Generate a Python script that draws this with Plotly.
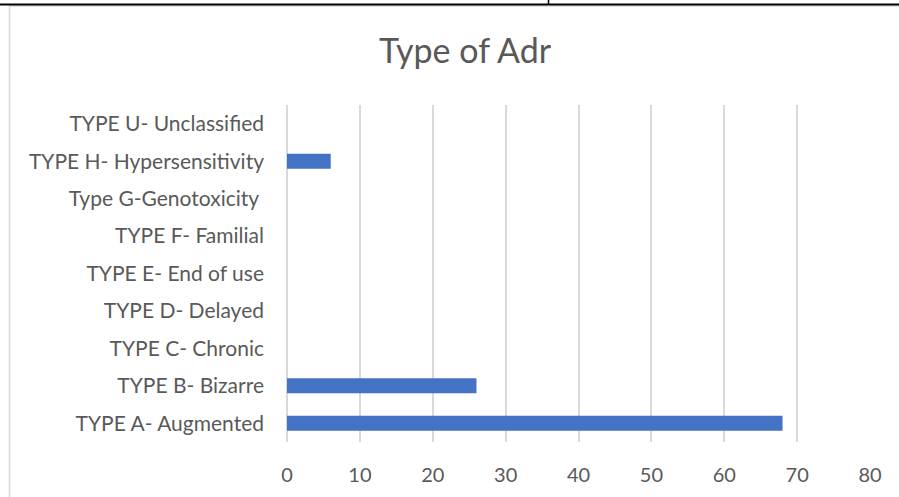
import plotly.graph_objects as go

# Categories listed bottom-to-top as they appear on the axis
categories = [
    "TYPE A- Augmented",
    "TYPE B- Bizarre",
    "TYPE C- Chronic",
    "TYPE D- Delayed",
    "TYPE E- End of use",
    "TYPE F- Familial",
    "Type G-Genotoxicity ",
    "TYPE H- Hypersensitivity",
    "TYPE U- Unclassified",
]
counts = [68, 26, 0, 0, 0, 0, 0, 6, 0]
x_ticks = [0, 10, 20, 30, 40, 50, 60, 70, 80]

W, H = 899, 497
L, R, T, B = 287, 29, 105, 55
pw = W - L - R
ph = H - T - B


def px_x(p):
    return (p - L) / pw


def px_y(p):
    return (H - B - p) / ph


fig = go.Figure(
    go.Bar(
        x=counts,
        y=categories,
        orientation="h",
        marker=dict(color="#4472C4", line=dict(width=0)),
        hoverinfo="x+y",
    )
)

grey = "#595959"
fig.update_layout(
    width=W,
    height=H,
    margin=dict(l=L, r=R, t=T, b=B),
    paper_bgcolor="white",
    plot_bgcolor="white",
    bargap=0.6,
    showlegend=False,
    font=dict(family="Lato, Open Sans, sans-serif", color=grey),
    title=dict(
        text="Type of Adr",
        font=dict(size=34, color=grey, family="Lato, sans-serif"),
        x=465 / W,
        xanchor="center",
        y=1 - 51 / H,
        yanchor="middle",
    ),
    xaxis=dict(
        range=[0, 80],
        tickvals=x_ticks,
        ticktext=[str(v) for v in x_ticks],
        showgrid=True,
        gridcolor="#D9D9D9",
        gridwidth=1.5,
        zeroline=True,
        zerolinecolor="#D9D9D9",
        zerolinewidth=1.5,
        showline=False,
        ticks="",
        ticklabelstandoff=19,
        tickfont=dict(size=20, color=grey),
        fixedrange=True,
    ),
    yaxis=dict(
        categoryorder="array",
        categoryarray=categories,
        showgrid=False,
        zeroline=False,
        showline=False,
        ticks="",
        ticklabelstandoff=22,
        tickfont=dict(size=21, color=grey),
        fixedrange=True,
    ),
    shapes=[
        # light grey chart frame
        dict(type="line", xref="paper", yref="paper",
             x0=px_x(9.5), x1=px_x(899), y0=px_y(6), y1=px_y(6),
             line=dict(color="#D9D9D9", width=1.5)),
        dict(type="line", xref="paper", yref="paper",
             x0=px_x(9.5), x1=px_x(9.5), y0=px_y(6), y1=px_y(497),
             line=dict(color="#D9D9D9", width=1.5)),
        # surrounding table rule
        dict(type="line", xref="paper", yref="paper",
             x0=px_x(0), x1=px_x(899), y0=px_y(4.5), y1=px_y(4.5),
             line=dict(color="black", width=2)),
        dict(type="line", xref="paper", yref="paper",
             x0=px_x(548.5), x1=px_x(548.5), y0=px_y(0), y1=px_y(4.5),
             line=dict(color="black", width=1.5)),
    ],
)

fig.write_html("out.html")
